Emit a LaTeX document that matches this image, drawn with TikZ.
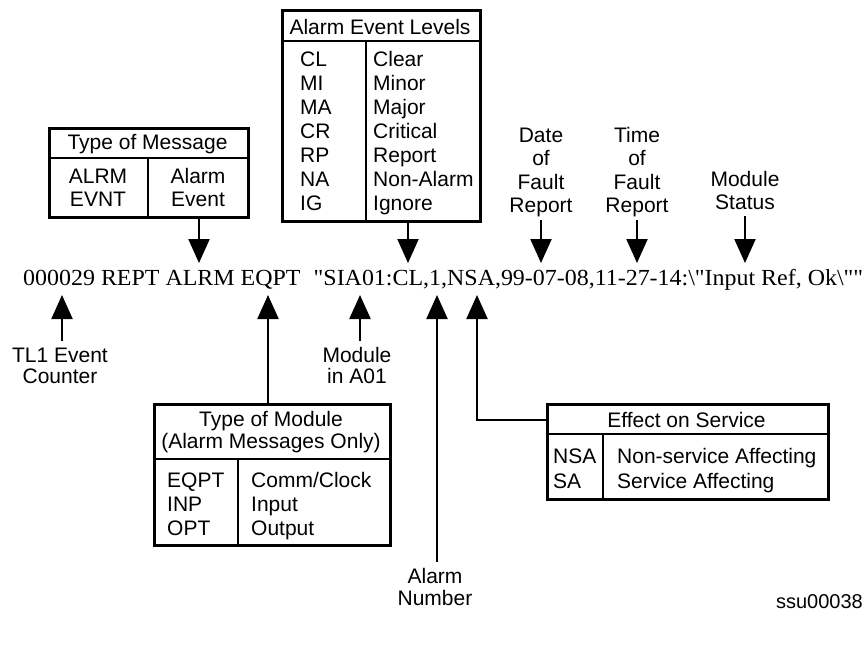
\documentclass[tikz,border=0pt]{standalone}
\usepackage{graphicx}
\usepackage{fontspec}
\setmainfont{Liberation Serif}
\newfontfamily\tlfont{Liberation Serif}
\newfontfamily\hel{Liberation Sans}
\usetikzlibrary{arrows.meta}
\newcommand\maintext{000029 REPT ALRM EQPT\hspace{0.3em} "SIA01:CL,1,NSA,99-07-08,11-27-14:\textbackslash"Input Ref, Ok\textbackslash""}
\tikzset{
  frame/.style={draw, line width=2.6pt, inner sep=0pt, anchor=north west},
  rule/.style={line width=2.6pt},
  conn/.style={line width=2.2pt},
  arr/.style={conn, -{Triangle[width=21pt,length=24pt]}},
  lbl/.style={font={\hel\fontsize{21}{23.5}\selectfont}, inner sep=0pt, align=center, anchor=base},
  cell/.style={font={\hel\fontsize{21}{24}\selectfont}, inner sep=0pt, align=left, anchor=base west},
}
\begin{document}
\begin{tikzpicture}[x=1pt,y=-1pt]
\fill[white] (0,0) rectangle (867,646);
\useasboundingbox (0,0) rectangle (867,646);

% main message line
\node[anchor=base west, inner sep=0pt, font={\tlfont\fontsize{23}{27}\selectfont}] (line) at (23,285) {\resizebox{840pt}{\height}{\maintext}};

% arrow tips on the message line
\coordinate (dALRM) at (199,263);
\coordinate (dCL) at (408,263);
\coordinate (dDate) at (541,263);
\coordinate (dTime) at (637,263);
\coordinate (dStat) at (745,263);
\coordinate (uTL) at (62,295);
\coordinate (uTOM) at (268,295);
\coordinate (uMod) at (360,295);
\coordinate (uNum) at (437,295);
\coordinate (uNSA) at (477,295);

% Type of Message
\node[frame, minimum width=199pt, minimum height=89pt] (msg) at (48,127) {};
\draw[rule] (48,158) -- (247,158) (148,158) -- (148,216);
\node[lbl] (msgT) at (147.5,149) {Type of Message};
\node[lbl, font={\hel\fontsize{21}{22.5}\selectfont}] (msgL) at (98,206) {ALRM\\EVNT};
\node[lbl, font={\hel\fontsize{21}{22.5}\selectfont}] (msgR) at (198,206) {Alarm\\Event};
\draw[arr] (msg.south -| dALRM) -- (dALRM);

% Alarm Event Levels
\node[frame, minimum width=198pt, minimum height=211pt] (lev) at (281,9) {};
\draw[rule] (281,41) -- (479,41) (366,41) -- (366,220);
\node[lbl] (levT) at (380,34) {Alarm Event Levels};
\node[cell, font={\hel\fontsize{21}{23.9}\selectfont}] (levL) at (300,210) {CL\\MI\\MA\\CR\\RP\\NA\\IG};
\node[cell, font={\hel\fontsize{21}{23.9}\selectfont}] (levR) at (373,210) {Clear\\Minor\\Major\\Critical\\Report\\Non-Alarm\\Ignore};
\draw[arr] (lev.south -| dCL) -- (dCL);

% Date / Time / Status
\node[lbl, font={\hel\fontsize{21}{23.3}\selectfont}] (date) at (541,212.5) {Date\\of\\Fault\\Report};
\node[lbl, font={\hel\fontsize{21}{23.3}\selectfont}] (time) at (637,212.5) {Time\\of\\Fault\\Report};
\node[lbl] (stat) at (745,209.5) {Module\\Status};
\draw[arr] ([yshift=-3pt]date.south -| dDate) -- (dDate);
\draw[arr] ([yshift=-3pt]time.south -| dTime) -- (dTime);
\draw[arr] ([yshift=-6pt]stat.south -| dStat) -- (dStat);

% lower labels
\node[lbl, font={\hel\fontsize{21}{21}\selectfont}] (tl1) at (60,383) {TL1 Event\\Counter};
\draw[arr] ([yshift=6pt]tl1.north -| uTL) -- (uTL);
\node[lbl, font={\hel\fontsize{21}{21}\selectfont}] (mod) at (357,383) {Module\\in A01};
\draw[arr] ([yshift=6pt]mod.north -| uMod) -- (uMod);
\node[lbl, font={\hel\fontsize{21}{22}\selectfont}] (anum) at (435,605) {Alarm\\Number};
\draw[arr] ([yshift=6pt]anum.north -| uNum) -- (uNum);

% Type of Module
\node[frame, minimum width=236pt, minimum height=141pt] (tom) at (153,403) {};
\draw[rule] (153,459) -- (389,459) (238,459) -- (238,544);
\node[lbl, font={\hel\fontsize{21}{22.5}\selectfont}] (tomT) at (271,448.5) {Type of Module\\(Alarm Messages Only)};
\node[cell] (tomL) at (167,535) {EQPT\\INP\\OPT};
\node[cell] (tomR) at (251,535) {Comm/Clock\\Input\\Output};
\draw[arr] (tom.north -| uTOM) -- (uTOM);

% Effect on Service
\node[frame, minimum width=281pt, minimum height=95pt] (eff) at (546,403) {};
\draw[rule] (546,434) -- (827,434) (603,434) -- (603,498);
\node[lbl] (effT) at (686.5,427) {Effect on Service};
\node[cell, font={\hel\fontsize{21}{24.5}\selectfont}] (effL) at (553,488) {NSA\\SA};
\node[cell, font={\hel\fontsize{21}{24.5}\selectfont}] (effR) at (617,488) {Non-service Affecting\\Service Affecting};
\draw[arr] (eff.west |- 0,420) -| (uNSA);

% figure id
\node[lbl, anchor=base east, font={\hel\fontsize{20}{24}\selectfont}] (ssu) at (863,608) {ssu00038};
\end{tikzpicture}
\end{document}
